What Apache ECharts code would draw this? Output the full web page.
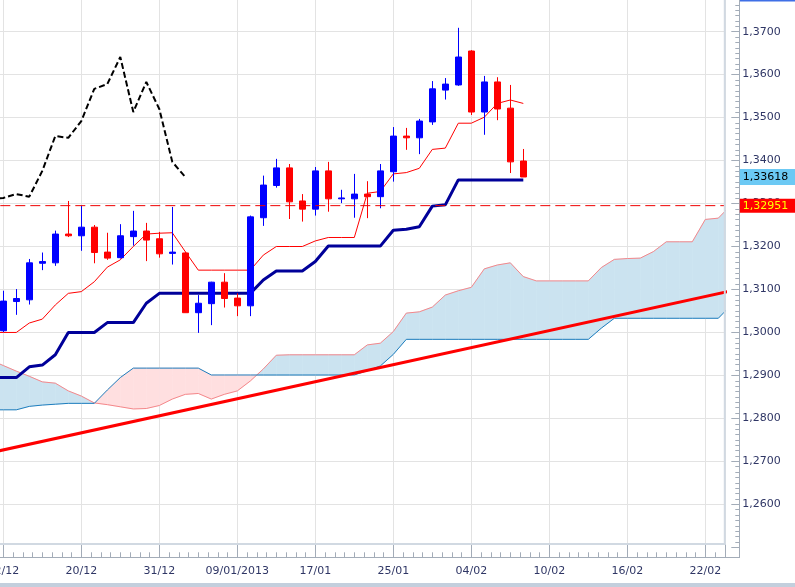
<!DOCTYPE html>
<html><head><meta charset="utf-8">
<script src="https://cdn.jsdelivr.net/npm/echarts@6/dist/echarts.min.js"></script>
<style>html,body{margin:0;padding:0;background:#fff;}#c{width:795px;height:587px;}</style>
</head><body><div id="c"></div>
<script>
// Bar index 0 = 12/12/2012 ; tick labels every 6 bars starting at index 0
const dateLabels = ['12/12','20/12','31/12','09/01/2013','17/01','25/01','04/02','10/02','16/02','22/02'];

// Candles, bar index 0..40
const candleOpen = [1.3004,1.3072,1.3076,1.3161,1.3162,1.3229,1.3225,1.3245,1.3187,1.3174,
 1.3223,1.3236,1.3218,1.3184,1.3185,1.3046,1.3067,1.3117,1.3080,1.3062,
 1.3267,1.3342,1.3383,1.3306,1.3287,1.3376,1.3311,1.3311,1.3322,1.3316,
 1.3374,1.3457,1.3453,1.3490,1.3564,1.3576,1.3655,1.3513,1.3583,1.3522,
 1.3399];
const candleClose = [1.3073,1.3079,1.3162,1.3165,1.3229,1.3225,1.3245,1.3186,1.3173,1.3225,
 1.3236,1.3215,1.3183,1.3187,1.3046,1.3068,1.3117,1.3079,1.3062,1.3269,
 1.3343,1.3383,1.3304,1.3287,1.3376,1.3311,1.3313,1.3322,1.3316,1.3376,
 1.3457,1.3453,1.3492,1.3567,1.3578,1.3641,1.3513,1.3583,1.3520,1.3397,
 1.33618];
const candleLow = [1.3001,1.3041,1.3065,1.3145,1.3155,1.3222,1.3190,1.3161,1.3169,1.3172,
 1.3202,1.3166,1.3174,1.3158,1.3046,1.2999,1.3017,1.3058,1.3038,1.3038,
 1.3248,1.3337,1.3264,1.3258,1.3272,1.3281,1.3301,1.3267,1.3266,1.3289,
 1.3351,1.3425,1.3415,1.3483,1.3542,1.3574,1.3506,1.3460,1.3494,1.3371,
 1.33618];
const candleHigh = [1.3097,1.3101,1.3171,1.3186,1.3237,1.3306,1.3295,1.3250,1.3232,1.3252,
 1.3283,1.3255,1.3234,1.3292,1.3188,1.3087,1.3118,1.3138,1.3091,1.3272,
 1.3365,1.3404,1.3392,1.3322,1.3385,1.3397,1.3332,1.3369,1.3352,1.3392,
 1.3478,1.3476,1.3497,1.3585,1.3592,1.3709,1.3657,1.3597,1.3594,1.3576,
 1.3427];

// Ichimoku lines; first value is at bar index -1
const lineStart = -1;
const tenkan = [1.3000,1.3000,1.3000,1.3022,1.3031,1.3064,1.3091,1.3095,1.3118,1.3152,
 1.3169,1.3200,1.3229,1.3231,1.3232,1.3188,1.3145,1.3145,1.3145,1.3145,
 1.3145,1.3180,1.3200,1.3200,1.3200,1.3213,1.3221,1.3221,1.3221,1.3324,
 1.3328,1.3369,1.3372,1.3382,1.3426,1.3429,1.3487,1.3487,1.3501,1.3533,
 1.3541,1.3533];
const kijun = [1.2895,1.2895,1.2895,1.2920,1.2924,1.2948,1.3000,1.3000,1.3000,1.3023,
 1.3023,1.3023,1.3068,1.3091,1.3091,1.3091,1.3091,1.3091,1.3091,1.3091,
 1.3091,1.3122,1.3143,1.3143,1.3143,1.3165,1.3201,1.3201,1.3201,1.3201,
 1.3201,1.3238,1.3240,1.3246,1.3294,1.3297,1.3355,1.3355,1.3355,1.3355,
 1.3355,1.3355];
const chikou = [1.3311,1.3313,1.3322,1.3316,1.3376,1.3457,1.3453,1.3492,1.3567,1.3578,
 1.3641,1.3513,1.3583,1.3520,1.3397,1.33618];
const senkouA = [1.2936,1.2923,1.2910,1.2898,1.2885,1.2882,1.2864,1.2852,1.2836,1.2832,
 1.2827,1.2822,1.2823,1.2830,1.2845,1.2856,1.2858,1.2845,1.2856,1.2864,
 1.2887,1.2915,1.2947,1.2948,1.2948,1.2948,1.2948,1.2948,1.2948,1.2971,
 1.2975,1.3002,1.3045,1.3048,1.3059,1.3087,1.3097,1.3105,1.3148,1.3157,
 1.3162,1.3130,1.3120,1.3120,1.3120,1.3120,1.3120,1.3151,1.3170,1.3172,
 1.3173,1.3188,1.3211,1.3211,1.3211,1.3263,1.3266,1.3297];
const senkouB = [1.2820,1.2820,1.2820,1.2828,1.2831,1.2833,1.2835,1.2835,1.2835,1.2866,
 1.2895,1.2917,1.2917,1.2917,1.2917,1.2917,1.2917,1.2901,1.2901,1.2901,
 1.2901,1.2901,1.2901,1.2901,1.2901,1.2901,1.2901,1.2901,1.2901,1.2911,
 1.2922,1.2949,1.2984,1.2984,1.2984,1.2984,1.2984,1.2984,1.2984,1.2984,
 1.2984,1.2984,1.2984,1.2984,1.2984,1.2984,1.2984,1.3010,1.3033,1.3033,
 1.3033,1.3033,1.3033,1.3033,1.3033,1.3033,1.3033,1.3064];

// Trend line end points (bar index, price)
const trendX = [-1, 56];
const trendY = [1.2720, 1.3097];
// Horizontal resistance level spanning the whole x range
const levelX = [-6, 55.5];
const resistanceLevel = 1.32951;
const lastPrice = 1.33618;
</script>
<script>
const FONT = 'DejaVu Sans';
const TXT = '#2f3665';
const AX = '#a3acb8';
const toPairs = (start, arr) => arr.map((v, i) => [start + i, v]);
const candles = candleOpen.map((o, i) => [i, o, candleClose[i], candleLow[i], candleHigh[i]]);
const cloudSegs = [];
for (let i = 0; i < senkouA.length - 1; i++) {
  cloudSegs.push([lineStart + i, senkouA[i], senkouB[i], senkouA[i + 1], senkouB[i + 1]]);
}
const BLUE = '#cbe3f0', PINK = '#ffdfe0';
function cloudItem(params, api) {
  const k = api.value(0), a0 = api.value(1), b0 = api.value(2), a1 = api.value(3), b1 = api.value(4);
  const P = (x, y) => api.coord([x, y]);
  const d0 = a0 - b0, d1 = a1 - b1;
  const poly = (pts, c) => ({type: 'polygon', shape: {points: pts}, style: {fill: c, stroke: c, lineWidth: 0.6}});
  if (d0 * d1 >= 0) {
    const c = (d0 + d1) >= 0 ? BLUE : PINK;
    return poly([P(k, a0), P(k + 1, a1), P(k + 1, b1), P(k, b0)], c);
  }
  const t = d0 / (d0 - d1);
  const xc = k + t, yc = a0 + (a1 - a0) * t;
  return {type: 'group', children: [
    poly([P(k, a0), P(xc, yc), P(k, b0)], d0 > 0 ? BLUE : PINK),
    poly([P(xc, yc), P(k + 1, a1), P(k + 1, b1)], d1 > 0 ? BLUE : PINK)
  ]};
}
const priceFmt = p => Number(p.value).toFixed(5).replace('.', ',');
const lineBase = {type: 'line', symbol: 'none', silent: true, animation: false, clip: true};

const chart = echarts.init(document.getElementById('c'));
chart.setOption({
  animation: false,
  backgroundColor: '#ffffff',
  textStyle: {fontFamily: FONT},
  grid: {left: -74.7, top: -11.3, width: 799.5, height: 558.6, containLabel: false, outerBoundsMode: 'none', show: false},
  xAxis: [{
    type: 'value', min: -6, max: 55.5, interval: 6, position: 'bottom', offset: 10,
    axisLine: {show: true, onZero: false, lineStyle: {color: AX, width: 1}},
    axisTick: {show: true, inside: true, length: 13, lineStyle: {color: AX}},
    axisLabel: {show: true, margin: 8, fontSize: 11, fontFamily: FONT, color: TXT,
      formatter: v => (v >= 0 && Math.abs(v % 6) < 1e-6 && dateLabels[Math.round(v / 6)]) ? dateLabels[Math.round(v / 6)] : ''},
    splitLine: {show: true, lineStyle: {color: '#e3e3e3', width: 1}},
    minorTick: {show: false}
  }, {
    type: 'value', min: -6, max: 55.5, interval: 0.75, position: 'bottom', offset: 10,
    axisLine: {show: false, onZero: false},
    axisTick: {show: true, inside: true, length: 5, lineStyle: {color: AX}},
    axisLabel: {show: false},
    splitLine: {show: false}
  }],
  yAxis: {
    type: 'value', position: 'right', offset: 14.5, min: 1.25, max: 1.38, interval: 0.01,
    axisLine: {show: true, onZero: false, lineStyle: {color: AX, width: 1}},
    axisTick: {show: true, inside: true, length: 8, lineStyle: {color: AX}},
    minorTick: {show: true, splitNumber: 8, length: 4, lineStyle: {color: AX}},
    axisLabel: {show: true, margin: 3, fontSize: 11, fontFamily: FONT, color: TXT, showMinLabel: false, showMaxLabel: false,
      formatter: v => Number(v).toFixed(4).replace('.', ',')},
    splitLine: {show: true, showMinLine: false, showMaxLine: false, lineStyle: {color: '#e3e3e3', width: 1}}
  },
  series: [
    {type: 'custom', name: 'kumo', data: cloudSegs, renderItem: cloudItem, clip: true, silent: true, z: 1,
     encode: {x: 0, y: [1, 2, 3, 4]}},
    Object.assign({}, lineBase, {name: 'Senkou A', data: toPairs(lineStart, senkouA), z: 2, lineStyle: {color: '#f4878a', width: 1}}),
    Object.assign({}, lineBase, {name: 'Senkou B', data: toPairs(lineStart, senkouB), z: 2, lineStyle: {color: '#1d7dbd', width: 1}}),
    Object.assign({}, lineBase, {name: 'Trend', data: trendX.map((x, i) => [x, trendY[i]]), z: 3, lineStyle: {color: '#ff0000', width: 3}}),
    Object.assign({}, lineBase, {name: 'Kijun', data: toPairs(lineStart, kijun), z: 4, lineStyle: {color: '#000099', width: 3}}),
    Object.assign({}, lineBase, {name: 'Tenkan', data: toPairs(lineStart, tenkan), z: 5, lineStyle: {color: '#ff0000', width: 1},
      markLine: {silent: true, symbol: ['none', 'none'], animation: false, precision: 5, z: 10,
        lineStyle: {opacity: 0},
        data: [
          {yAxis: resistanceLevel, lineStyle: {opacity: 0},
           label: {show: true, position: 'end', distance: 15, formatter: priceFmt, color: '#ffff00', backgroundColor: '#ff0000',
                   padding: [1, 10, 1, 3], fontSize: 11, lineHeight: 12, fontFamily: FONT, opacity: 1}},
          {yAxis: lastPrice, lineStyle: {opacity: 0},
           label: {show: true, position: 'end', distance: 15, formatter: priceFmt, color: '#000000', backgroundColor: '#6cc9f4',
                   padding: [2, 10, 2, 3], fontSize: 11, lineHeight: 12, fontFamily: FONT, opacity: 1}}
        ]}}),
    Object.assign({}, lineBase, {name: 'Chikou', data: toPairs(lineStart, chikou), z: 5, lineStyle: {color: '#000000', width: 2, type: [6, 3]}}),
    {type: 'candlestick', name: 'EUR/USD', data: candles, barWidth: 7, z: 6, silent: true, clip: true,
     encode: {x: 0, y: [1, 2, 3, 4]},
     itemStyle: {color: '#0000ff', color0: '#ff0000', borderColor: '#0000ff', borderColor0: '#ff0000', borderWidth: 1}},
    Object.assign({}, lineBase, {name: 'Resistance', data: levelX.map(x => [x, resistanceLevel]), z: 7,
      lineStyle: {color: '#ee0000', width: 1, type: [10, 5]}})
  ],
  graphic: [
    {type: 'polyline', silent: true, z: 100, shape: {points: [[0, 544], [724.8, 544], [724.8, 0]]}, style: {stroke: '#d1d9e2', lineWidth: 2, fill: null}},
    {type: 'line', silent: true, z: 100, shape: {x1: 724, y1: 557.5, x2: 740, y2: 557.5}, style: {stroke: AX, lineWidth: 1}},
    {type: 'line', silent: true, z: 100, shape: {x1: 739.5, y1: 540, x2: 739.5, y2: 558}, style: {stroke: AX, lineWidth: 1}},
    {type: 'rect', silent: true, z: 100, shape: {x: 0, y: 583, width: 795, height: 4}, style: {fill: '#c3cfdd'}},
    {type: 'rect', silent: true, z: 100, shape: {x: 740, y: 0, width: 55, height: 1.5}, style: {fill: '#3f6fe6'}}
  ]
});
</script>
</body></html>
